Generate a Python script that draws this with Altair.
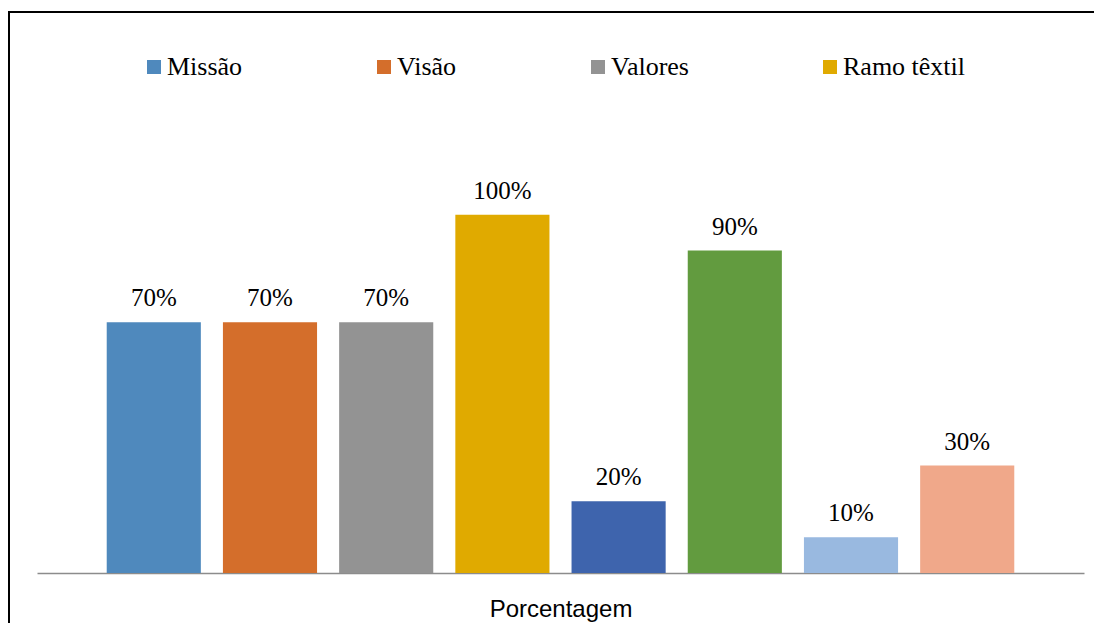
import altair as alt
import pandas as pd

categorias = ["Missão", "Visão", "Valores", "Ramo têxtil", "Série 5", "Série 6", "Série 7", "Série 8"]
valores = [0.70, 0.70, 0.70, 1.00, 0.20, 0.90, 0.10, 0.30]
cores = ["#4F89BD", "#D46E2B", "#939393", "#E0AA00", "#3E64AD", "#629B3F", "#99B9E0", "#F0A88A"]
legenda = ["Missão", "Visão", "Valores", "Ramo têxtil"]
titulo_eixo = "Porcentagem"

SERIF = "Times New Roman, Liberation Serif, serif"

df = pd.DataFrame({"categoria": categorias, "valor": valores})

W, H = 1047, 430

x = alt.X(
    "categoria:N",
    sort=categorias,
    scale=alt.Scale(paddingInner=0.19, paddingOuter=0.6),
    axis=alt.Axis(
        title=titulo_eixo,
        labels=False,
        ticks=False,
        domainColor="#8C8C8C",
        domainWidth=1.5,
        titleFont="Liberation Sans",
        titleFontSize=24,
        titleFontWeight="normal",
        titleColor="#000000",
        titleBaseline="alphabetic",
        titleY=43,
    ),
)
y = alt.Y("valor:Q", scale=alt.Scale(domain=[0, 1.2]), axis=None)

bars = alt.Chart(df).mark_bar().encode(
    x=x,
    y=y,
    color=alt.Color(
        "categoria:N",
        sort=categorias,
        scale=alt.Scale(domain=categorias, range=cores),
        legend=alt.Legend(
            values=legenda,
            title=None,
            orient="none",
            direction="horizontal",
            legendX=104,
            legendY=-89,
            symbolType="square",
            symbolSize=196,
            symbolStrokeWidth=0,
            symbolOpacity=1,
            labelFont=SERIF,
            labelFontSize=26,
            labelColor="#000000",
            labelOffset=0,
            columnPadding=128,
            padding=0,
            labelLimit=400,
        ),
    ),
)

labels = alt.Chart(df).mark_text(
    font=SERIF, fontSize=25, color="#000000", baseline="alphabetic", dy=-16
).encode(
    x=alt.X("categoria:N", sort=categorias),
    y=alt.Y("valor:Q"),
    text=alt.Text("valor:Q", format=".0%"),
)

frame_top = alt.Chart(df).mark_rule(color="#000000", strokeWidth=2).encode(
    x=alt.value(-29), x2=alt.value(W + 10), y=alt.value(-131)
)
frame_left = alt.Chart(df).mark_rule(color="#000000", strokeWidth=2).encode(
    x=alt.value(-28), y=alt.value(-132), y2=alt.value(H + 50)
)

chart = (
    alt.layer(frame_top, frame_left, bars, labels)
    .properties(
        width=W,
        height=H,
        autosize=alt.AutoSizeParams(type="none"),
        padding={"left": 29, "top": 135, "right": 10, "bottom": 50},
        background="#FFFFFF",
    )
    .configure_view(stroke=None)
)

chart.save("out.html", embed_options={"renderer": "svg", "actions": False})
